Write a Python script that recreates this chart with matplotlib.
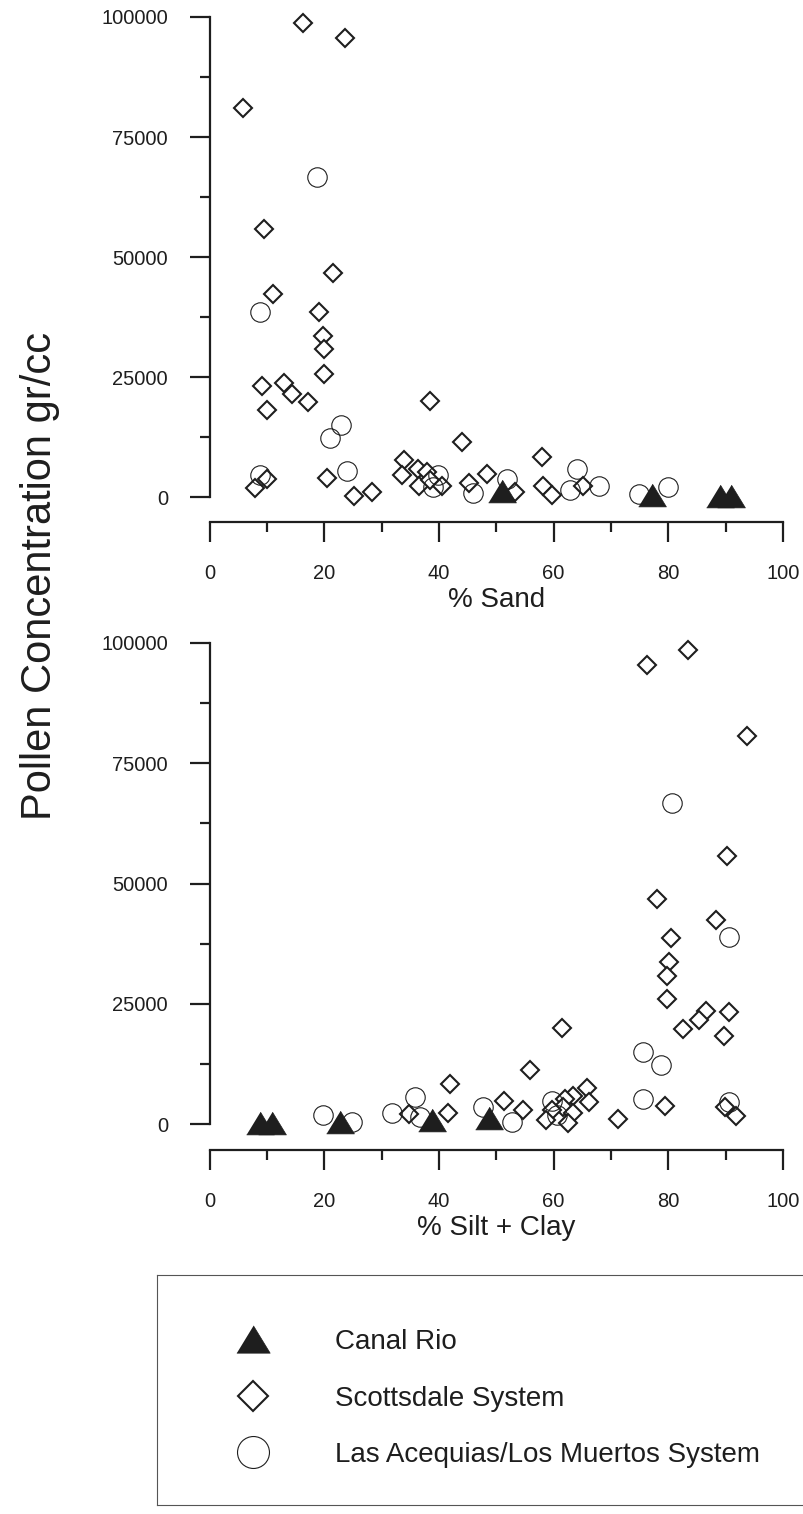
import matplotlib
matplotlib.use("Agg")
import matplotlib.pyplot as plt
from matplotlib.lines import Line2D

plt.rcParams['font.family'] = ['Liberation Sans', 'DejaVu Sans']

# --- data ---

# top panel: % sand
sand_canal = [51.0, 77.1, 89.0, 90.9]
conc_canal_top = [1300, 400, 300, 300]

sand_scott = [16.3, 23.6, 5.9, 9.5, 21.6, 11.1, 19.1, 19.7, 19.9, 19.9,
              13.0, 9.1, 14.4, 17.2, 38.4, 10.0, 44.0, 10.0, 7.9, 20.4,
              25.2, 28.4, 33.9, 33.6, 36.3, 36.5, 38.0, 38.4, 40.6, 45.3,
              48.4, 53.3, 57.9, 58.2, 59.7, 65.2]
conc_scott_top = [98700, 95600, 81000, 55800, 46600, 42300, 38600, 33500, 30800, 25600,
                  23700, 23200, 21400, 19700, 20000, 18100, 11500, 3750, 1800, 4000,
                  200, 1100, 7700, 4600, 5800, 2200, 5300, 3500, 2400, 3000,
                  4900, 1100, 8400, 2300, 400, 2300]

sand_acq = [18.8, 8.8, 22.9, 21.0, 23.9, 8.8, 39.9, 39.0, 46.0, 51.9,
            64.0, 62.9, 67.9, 74.9, 79.9]
conc_acq_top = [66600, 38600, 15100, 12300, 5400, 4600, 4600, 2150, 800, 3700,
                5800, 1500, 2300, 600, 2150]

# bottom panel: % silt + clay
silt_canal = [8.8, 10.8, 22.7, 38.7, 48.8]
conc_canal_bot = [300, 300, 500, 800, 1200]

silt_scott = [76.2, 83.4, 93.8, 90.2, 78.1, 88.4, 80.4, 80.1, 79.7, 79.7,
              86.6, 90.6, 85.4, 82.6, 89.7, 61.4, 55.8, 79.4, 89.9, 91.8,
              71.3, 51.4, 54.6, 65.8, 66.2, 63.4, 62.0, 61.7, 59.7, 58.6,
              63.4, 62.5, 41.9, 41.5, 34.7]
conc_scott_bot = [95400, 98500, 80700, 55800, 46800, 42400, 38700, 33700, 30800, 25900,
                  23600, 23300, 21600, 19700, 18400, 19900, 11300, 3800, 3600, 1700,
                  1000, 4800, 3000, 7500, 4500, 5800, 5100, 3600, 2900, 800,
                  2200, 200, 8300, 2200, 2000]

silt_acq = [80.7, 90.6, 75.6, 78.7, 75.6, 90.6, 59.7, 60.5, 47.7, 52.8,
            35.8, 36.7, 31.8, 24.8, 19.7]
conc_acq_bot = [66700, 38800, 15000, 12300, 5200, 4500, 4800, 1900, 3600, 500,
                5700, 1500, 2200, 500, 1900]

x_ticks = [0, 20, 40, 60, 80, 100]
x_minor = [10, 30, 50, 70, 90]
y_ticks = [0, 25000, 50000, 75000, 100000]
y_minor = [12500, 37500, 62500, 87500]
x_labels = ['% Sand', '% Silt + Clay']
series_names = ['Canal Rio', 'Scottsdale System', 'Las Acequias/Los Muertos System']

INK = '#1e1e1e'
W, H = 804, 1514
TRI = [(-1, -0.82), (1, -0.82), (0, 0.82)]

fig = plt.figure(figsize=(W / 100, H / 100), dpi=100)
fig.patch.set_facecolor('white')


def px_axes(left, right, top, bottom):
    return fig.add_axes([left / W, 1 - bottom / H, (right - left) / W, (bottom - top) / H])


def style_axes(ax, ymin, xlabel):
    ax.set_xlim(0, 100)
    ax.set_ylim(ymin, 100000)
    for s in ['top', 'right']:
        ax.spines[s].set_visible(False)
    ax.spines['left'].set_bounds(0, 100000)
    ax.spines['bottom'].set_bounds(0, 100)
    for s in ['left', 'bottom']:
        ax.spines[s].set_linewidth(1.6)
        ax.spines[s].set_color(INK)
    ax.set_xticks(x_ticks)
    ax.set_xticks(x_minor, minor=True)
    ax.set_yticks(y_ticks)
    ax.set_yticks(y_minor, minor=True)
    ax.set_xticklabels([str(v) for v in x_ticks])
    ax.set_yticklabels([str(v) for v in y_ticks])
    ax.tick_params(which='major', direction='out', length=14.4, width=1.6, color=INK,
                   labelsize=14.5, labelcolor=INK)
    ax.tick_params(which='minor', direction='out', length=7.2, width=1.6, color=INK)
    ax.tick_params(axis='x', which='major', pad=16)
    ax.tick_params(axis='y', which='major', pad=15.5)
    ax.set_xlabel(xlabel, fontsize=20, color=INK, labelpad=2.5)
    ax.set_facecolor('none')


def draw(ax, xc, yc, xs, ys, xa, ya):
    ax.plot(xs, ys, ls='none', marker='D', ms=9.5, mfc='white', mec=INK, mew=1.5, clip_on=False)
    ax.plot(xa, ya, ls='none', marker='o', ms=14, mfc='none', mec=INK, mew=0.8, clip_on=False)
    ax.plot(xc, yc, ls='none', marker=TRI, ms=20, mfc=INK, mec=INK, mew=0.5, clip_on=False)


ax1 = px_axes(209.6, 783, 17, 522)
style_axes(ax1, -5200, x_labels[0])
draw(ax1, sand_canal, conc_canal_top, sand_scott, conc_scott_top, sand_acq, conc_acq_top)

ax2 = px_axes(209.6, 783, 643, 1150)
style_axes(ax2, -5400, x_labels[1])
draw(ax2, silt_canal, conc_canal_bot, silt_scott, conc_scott_bot, silt_acq, conc_acq_bot)

fig.text(40 / W, 1 - 576 / H, 'Pollen Concentration gr/cc', rotation=90,
         ha='center', va='center', fontsize=30, color=INK)

# legend box
lax = px_axes(157, 815, 1275, 1505)
lax.set_xticks([])
lax.set_yticks([])
for s in lax.spines.values():
    s.set_linewidth(0.8)
    s.set_color('#555555')

handles = [
    Line2D([], [], ls='none', marker=TRI, ms=24, mfc=INK, mec=INK, mew=0.5),
    Line2D([], [], ls='none', marker='D', ms=15, mfc='white', mec=INK, mew=1.5),
    Line2D([], [], ls='none', marker='o', ms=23, mfc='none', mec=INK, mew=0.8),
]
leg = lax.legend(handles, series_names, loc='upper left',
                 bbox_to_anchor=((236 - 157) / 658, 1 - 54 / 230),
                 frameon=False, fontsize=20, borderpad=0, borderaxespad=0,
                 handlelength=1.2, handletextpad=2.35, labelspacing=1.1)
for t in leg.get_texts():
    t.set_color(INK)

fig.savefig('out.png', dpi=100, facecolor='white')
